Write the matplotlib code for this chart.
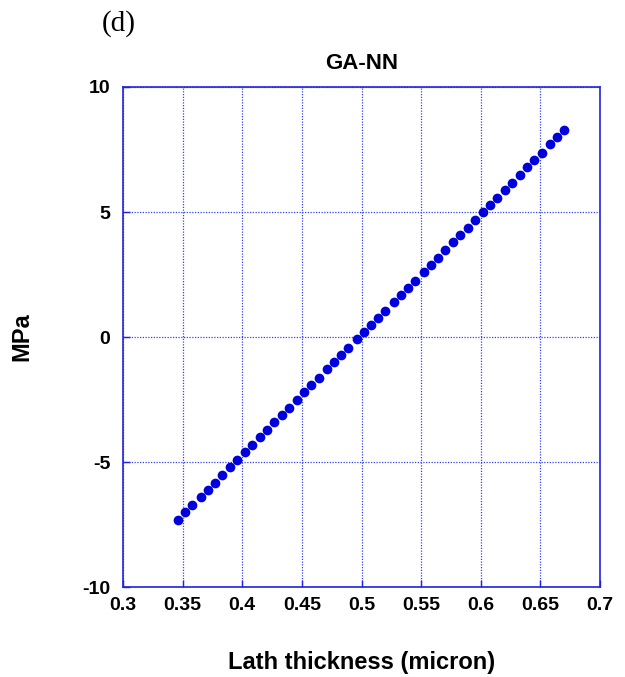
import matplotlib
matplotlib.use("Agg")
import matplotlib.pyplot as plt

x_vals = [0.346, 0.352, 0.358, 0.365, 0.371, 0.377, 0.383, 0.390, 0.396, 0.402,
          0.408, 0.415, 0.421, 0.427, 0.433, 0.439, 0.446, 0.452, 0.458, 0.464,
          0.471, 0.477, 0.483, 0.489, 0.496, 0.502, 0.508, 0.514, 0.520, 0.527,
          0.533, 0.539, 0.545, 0.552, 0.558, 0.564, 0.570, 0.577, 0.583, 0.589,
          0.595, 0.602, 0.608, 0.614, 0.620, 0.626, 0.633, 0.639, 0.645, 0.651,
          0.658, 0.664, 0.670]
y_vals = [-7.30, -7.01, -6.73, -6.39, -6.10, -5.82, -5.53, -5.19, -4.90, -4.61,
          -4.33, -3.99, -3.70, -3.41, -3.12, -2.83, -2.50, -2.21, -1.92, -1.63,
          -1.29, -1.01, -0.72, -0.43, -0.09, 0.20, 0.48, 0.77, 1.06, 1.40,
          1.69, 1.98, 2.26, 2.60, 2.89, 3.18, 3.47, 3.80, 4.09, 4.38,
          4.67, 5.01, 5.29, 5.58, 5.87, 6.16, 6.50, 6.79, 7.07, 7.36,
          7.70, 7.99, 8.27]
x_ticks = [0.3, 0.35, 0.4, 0.45, 0.5, 0.55, 0.6, 0.65, 0.7]
x_tick_labels = ["0.3", "0.35", "0.4", "0.45", "0.5", "0.55", "0.6", "0.65", "0.7"]
y_ticks = [-10, -5, 0, 5, 10]
y_tick_labels = ["-10", "-5", "0", "5", "10"]

plt.rcParams['font.family'] = ['Liberation Sans', 'DejaVu Sans']
fig = plt.figure(figsize=(6.25, 6.77), dpi=100)
ax = fig.add_axes([0.1968, 0.1329, 0.7632, 0.7386])
blue = '#0000DD'
ax.plot(x_vals, y_vals, 'o', color=blue, markersize=7, markeredgewidth=0, zorder=3)
ax.set_xlim(0.3, 0.7)
ax.set_ylim(-10, 10)
ax.set_xticks(x_ticks)
ax.set_xticklabels(x_tick_labels)
ax.set_yticks(y_ticks)
ax.set_yticklabels(y_tick_labels)
ax.grid(True, color='#3344EE', linestyle=(0, (1, 1.2)), linewidth=0.9)
for s in ax.spines.values():
    s.set_color('#2222DD')
    s.set_linewidth(1.2)
ax.tick_params(direction='in', length=5, color='#2222DD', width=1,
               labelsize=14, top=False, right=False)
ax.tick_params(axis='x', pad=7)
ax.tick_params(axis='y', pad=9)
for lab in ax.get_xticklabels() + ax.get_yticklabels():
    lab.set_fontweight('bold')
ax.set_title('GA-NN', fontsize=16, fontweight='bold', pad=13)
ax.set_xlabel('Lath thickness (micron)', fontsize=17, fontweight='bold')
ax.set_ylabel('MPa', fontsize=17, fontweight='bold')
ax.xaxis.set_label_coords(0.5, -0.128)
ax.yaxis.set_label_coords(-0.187, 0.5)
fig.text(0.163, 0.985, '(d)', fontsize=21, family='Liberation Serif', va='top', ha='left')
fig.savefig('out.png', dpi=100)
